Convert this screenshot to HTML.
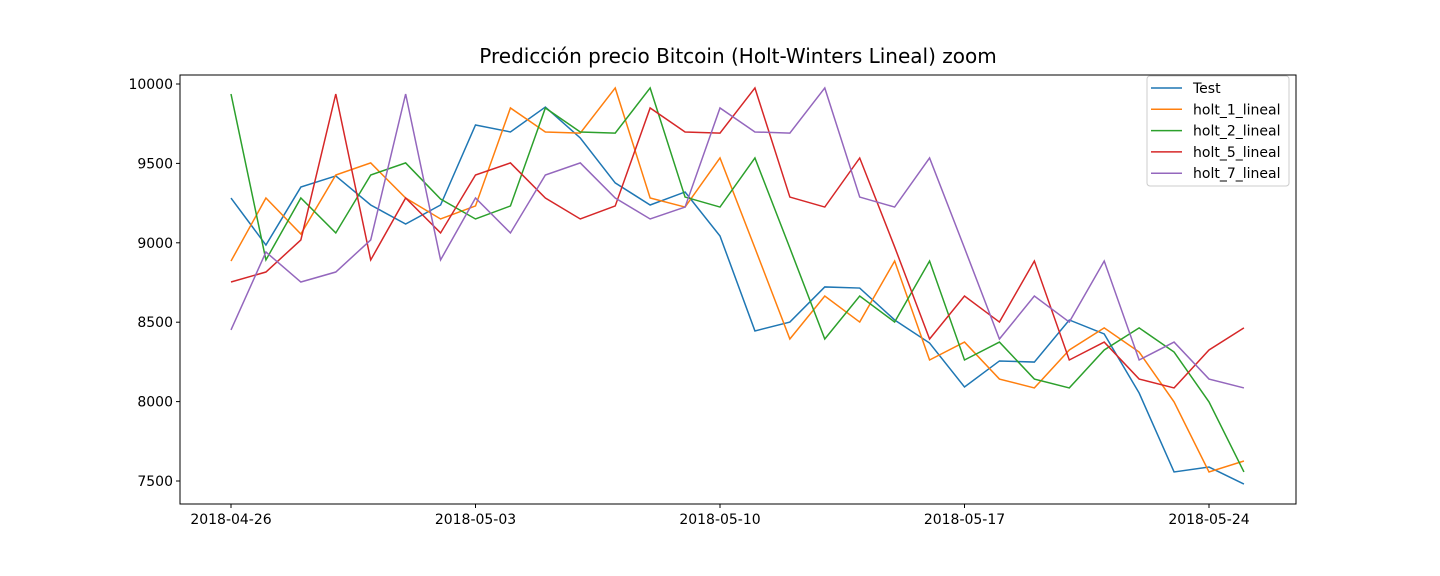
<!DOCTYPE html>
<html><head><meta charset="utf-8"><style>
body{margin:0;background:#fff;}
svg{display:block;font-family:"DejaVu Sans","Liberation Sans",sans-serif;}
</style></head><body>
<svg id="chart" width="1440" height="576"></svg>
<script>
const dates=["2018-04-26","2018-05-03","2018-05-10","2018-05-17","2018-05-24"];
const dateIdx=[0,7,14,21,28];
const yTicks=[7500,8000,8500,9000,9500,10000];
const seriesNames=["Test","holt_1_lineal","holt_2_lineal","holt_5_lineal","holt_7_lineal"];
const colors=["#1f77b4","#ff7f0e","#2ca02c","#d62728","#9467bd"];
const test=[9282,8986,9351,9421,9238,9118,9238,9742,9698,9855,9660,9377,9238,9320,9043,8445,8501,8722,8715,8514,8369,8092,8256,8249,8514,8426,8054,7557,7588,7481];
const holt1=[8885,9282,9055,9427,9503,9282,9150,9232,9849,9698,9691,9975,9282,9225,9534,8967,8394,8665,8501,8885,8262,8375,8142,8086,8325,8464,8312,7998,7557,7626];
const holt2=[9937,8892,9282,9062,9427,9503,9276,9150,9232,9849,9698,9691,9975,9288,9225,9534,8967,8394,8665,8501,8885,8262,8375,8142,8086,8325,8464,8312,7998,7557];
const holt5=[8753,8816,9018,9937,8892,9282,9062,9427,9503,9282,9150,9232,9849,9698,9691,9975,9288,9225,9534,8974,8394,8665,8501,8885,8262,8375,8142,8086,8325,8464];
const holt7=[8451,8942,8753,8816,9018,9937,8892,9282,9062,9427,9503,9282,9150,9225,9849,9698,9691,9975,9288,9225,9534,8967,8394,8665,8501,8885,8262,8375,8142,8086];
const allSeries=[test,holt1,holt2,holt5,holt7];

const NS="http://www.w3.org/2000/svg";
const svg=document.getElementById('chart');
const L=180,R=1296,T=75,B=504;
const x=i=>231+i*(1209-231)/28;
const y=v=>481-(v-7500)*(481-84)/2500;
function mk(tag,attrs,parent){const e=document.createElementNS(NS,tag);for(const k in attrs)e.setAttribute(k,attrs[k]);(parent||svg).appendChild(e);return e;}

const title=mk('text',{x:738,y:63,'text-anchor':'middle','font-size':20,fill:'#000'});


title.textContent="Predicción precio Bitcoin (Holt-Winters Lineal) zoom";

allSeries.forEach((s,k)=>{
  const p=mk('polyline',{points:s.map((v,i)=>x(i)+','+y(v)).join(' '),fill:'none',stroke:colors[k],'stroke-width':1.5});
  
  
});

const frame=mk('rect',{x:L,y:T,width:R-L,height:B-T,fill:'none',stroke:'#000','stroke-width':1});



dateIdx.forEach((d,i)=>{
  mk('line',{x1:x(d),x2:x(d),y1:B,y2:B+4,stroke:'#000'});
  const t=mk('text',{x:x(d),y:B+20,'text-anchor':'middle','font-size':14});
  
  
  t.textContent=dates[i];
});
yTicks.forEach(v=>{
  mk('line',{x1:L-4,x2:L,y1:y(v),y2:y(v),stroke:'#000'});
  const t=mk('text',{x:L-7,y:y(v)+5,'text-anchor':'end','font-size':14});
  
  
  t.textContent=v;
});

const lg=mk('g',{});


mk('rect',{x:1147,y:76,width:142,height:110,rx:3,fill:'#fff',stroke:'#ccc'},lg);
seriesNames.forEach((n,k)=>{
  const yy=88+k*21.3;
  mk('line',{x1:1151,x2:1182,y1:yy,y2:yy,stroke:colors[k],'stroke-width':1.5},lg);
  const t=mk('text',{x:1193,y:yy+5,'font-size':14},lg);
  
  
  t.textContent=n;
});
</script>
</body></html>
